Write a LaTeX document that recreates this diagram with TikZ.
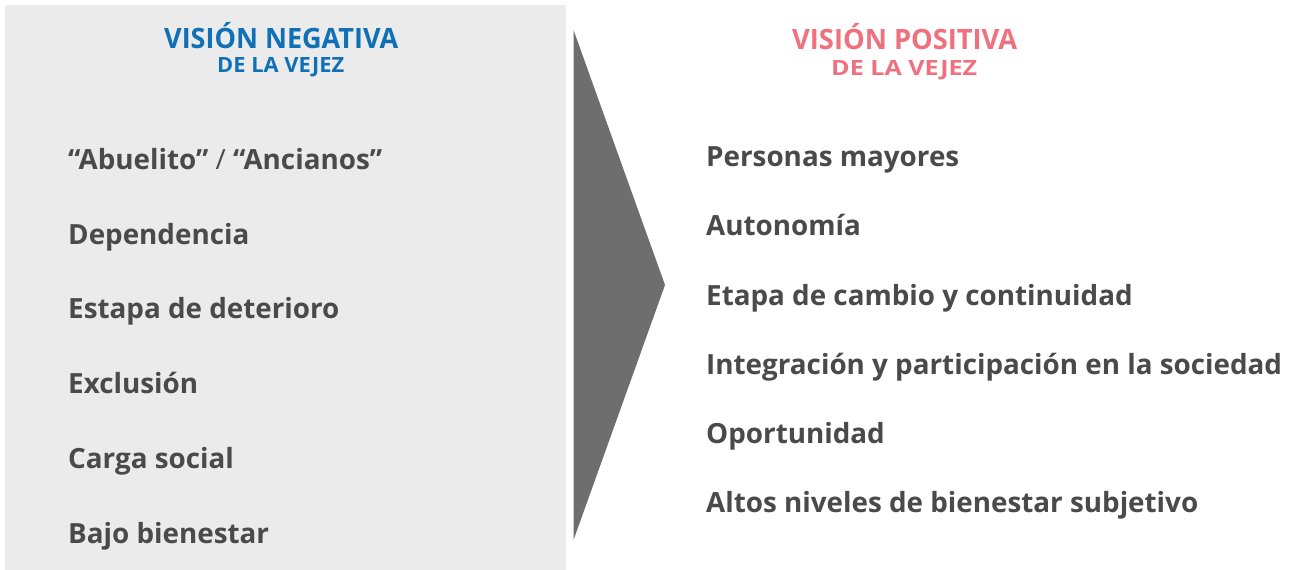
\documentclass[tikz,border=0pt]{standalone}
\usepackage{fontspec}
\setmainfont{Open Sans}
\definecolor{panel}{HTML}{EBEBEB}
\definecolor{arrowgray}{HTML}{6E6E6E}
\definecolor{txt}{HTML}{4A4A4A}
\definecolor{negblue}{HTML}{0F70B7}
\definecolor{pospink}{HTML}{EF717F}
\tikzset{
  item/.style={anchor=base west, inner sep=0pt, text=txt, font=\fontsize{27.8}{30}\selectfont\bfseries},
  head/.style={anchor=base west, inner sep=0pt, font=\fontsize{28}{30}\selectfont\bfseries},
  sub/.style={anchor=base west, inner sep=0pt, font=\fontsize{21}{24}\selectfont\bfseries},
}
\begin{document}
\begin{tikzpicture}[x=1pt,y=-1pt]
\useasboundingbox (0,0) rectangle (1299,570);
\fill[white] (0,0) rectangle (1299,570);
\fill[panel] (5,5) rectangle (566,570);
\fill[arrowgray] (573.5,30) -- (665,285) -- (573.5,540) -- cycle;
\node[head, text=negblue] (nh) at (164,48) {\resizebox{234pt}{\height}{VISIÓN NEGATIVA}};
\node[sub, text=negblue] (ns) at (217,72) {\resizebox{127pt}{\height}{DE LA VEJEZ}};
\node[head, text=pospink] (ph) at (792,49) {\resizebox{225pt}{\height}{VISIÓN POSITIVA}};
\node[sub, text=pospink] (ps) at (831,75) {\resizebox{146pt}{\height}{DE LA VEJEZ}};
\node[item] (n1) at (68,169) {“Abuelito” \textmd{/} “Ancianos”};
\node[item] (n2) at (68,244) {Dependencia};
\node[item] (n3) at (68,318) {Estapa de deterioro};
\node[item] (n4) at (68,393) {Exclusión};
\node[item] (n5) at (68,468) {Carga social};
\node[item] (n6) at (68,543) {Bajo bienestar};
\node[item] (p1) at (706,166) {Personas mayores};
\node[item] (p2) at (706,235) {Autonomía};
\node[item] (p3) at (706,305) {Etapa de cambio y continuidad};
\node[item] (p4) at (706,374) {Integración y participación en la sociedad};
\node[item] (p5) at (706,443) {Oportunidad};
\node[item] (p6) at (706,512) {Altos niveles de bienestar subjetivo};
\end{tikzpicture}
\end{document}
